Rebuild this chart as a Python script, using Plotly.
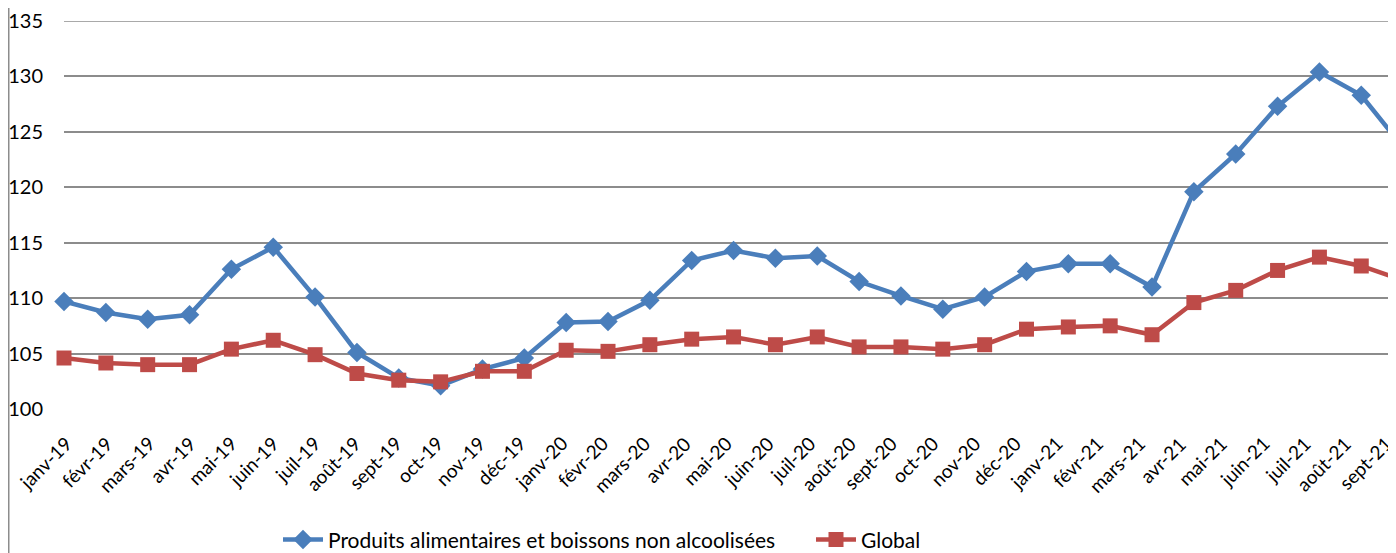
import plotly.graph_objects as go

months = ["janv-19", "févr-19", "mars-19", "avr-19", "mai-19", "juin-19", "juil-19", "août-19",
          "sept-19", "oct-19", "nov-19", "déc-19", "janv-20", "févr-20", "mars-20", "avr-20",
          "mai-20", "juin-20", "juil-20", "août-20", "sept-20", "oct-20", "nov-20", "déc-20",
          "janv-21", "févr-21", "mars-21", "avr-21", "mai-21", "juin-21", "juil-21", "août-21",
          "sept-21"]

alimentaires = [109.7, 108.7, 108.1, 108.5, 112.6, 114.6, 110.1, 105.1,
                102.8, 102.1, 103.6, 104.6, 107.8, 107.9, 109.8, 113.4,
                114.3, 113.6, 113.8, 111.5, 110.2, 109.0, 110.1, 112.4,
                113.1, 113.1, 111.0, 119.6, 123.0, 127.3, 130.4, 128.3,
                123.6]

global_idx = [104.6, 104.15, 104.0, 104.0, 105.4, 106.2, 104.9, 103.2,
              102.6, 102.45, 103.4, 103.4, 105.3, 105.2, 105.8, 106.3,
              106.5, 105.8, 106.5, 105.6, 105.6, 105.4, 105.8, 107.2,
              107.4, 107.5, 106.7, 109.6, 110.7, 112.5, 113.7, 112.9,
              111.6]

series_names = ["Produits alimentaires et boissons non alcoolisées", "Global"]
y_ticks = [100, 105, 110, 115, 120, 125, 130, 135]

BLUE = "#4A7EBB"
RED = "#BE4B48"
FONT = "Lato, Calibri, sans-serif"
GRID = "#8C8C8C"

# figure geometry (page body has an 8px margin)
W, H = 1388, 545
ML, MT, MB = 56, 13, 144
PW, PH = W - ML, H - MT - MB

fig = go.Figure()
fig.add_trace(go.Scatter(
    x=months, y=alimentaires, name=series_names[0], mode="lines+markers",
    line=dict(color=BLUE, width=4.5),
    marker=dict(symbol="diamond", size=15, color=BLUE),
    cliponaxis=False,
))
fig.add_trace(go.Scatter(
    x=months, y=global_idx, name=series_names[1], mode="lines+markers",
    line=dict(color=RED, width=4.5),
    marker=dict(symbol="square", size=15, color=RED),
    cliponaxis=False,
))
# invisible carrier trace for the label axis (the original's labels are slightly
# more tightly spaced than the points, so they get their own category scale)
fig.add_trace(go.Scatter(
    x=months, y=global_idx, xaxis="x2", mode="markers",
    marker=dict(opacity=0), showlegend=False, hoverinfo="skip",
))

label_font = dict(family=FONT, size=19, color="#000000")
annotations = [dict(x=m, y=0, xref="x2", yref="paper", text=m, textangle=-45,
                    showarrow=False, xanchor="right", yanchor="top",
                    xshift=15, yshift=-20, font=label_font)
               for m in months]

fig.update_layout(
    width=W, height=H,
    margin=dict(l=ML, r=0, t=MT, b=MB, autoexpand=False),
    paper_bgcolor="white", plot_bgcolor="white",
    font=dict(family=FONT, size=18, color="#000000"),
    showlegend=True,
    legend=dict(orientation="h", x=(270 - ML) / PW, xanchor="left",
                y=-0.337, yanchor="middle",
                font=dict(family=FONT, size=21, color="#000000"),
                itemwidth=40, tracegroupgap=0, entrywidth=478),
    xaxis=dict(
        type="category", range=[0, 31.83], showgrid=False, zeroline=False,
        showline=False, ticks="", showticklabels=False, automargin=False,
        fixedrange=True,
    ),
    xaxis2=dict(
        type="category", overlaying="x", side="bottom", range=[0, 32.275],
        showgrid=False, zeroline=False, showline=False, ticks="", showticklabels=False,
        automargin=False, fixedrange=True,
    ),
    yaxis=dict(
        range=[100, 135], tickvals=y_ticks, showgrid=True, gridcolor=GRID, gridwidth=1.5,
        zeroline=False, showline=False, ticks="", ticklabelstandoff=20, automargin=False,
        tickfont=dict(family=FONT, size=20, color="#000000"),
    ),
    annotations=annotations,
    shapes=[
        dict(type="line", xref="paper", yref="paper",
             x0=(0.75 - ML) / PW, x1=(0.75 - ML) / PW, y0=-MB / PH, y1=1 + MT / PH,
             line=dict(color=GRID, width=1.5)),
        dict(type="line", xref="paper", yref="y", x0=0, x1=1, y0=135, y1=135,
             line=dict(color=GRID, width=1.5)),
    ],
)

fig.write_html("out.html")
